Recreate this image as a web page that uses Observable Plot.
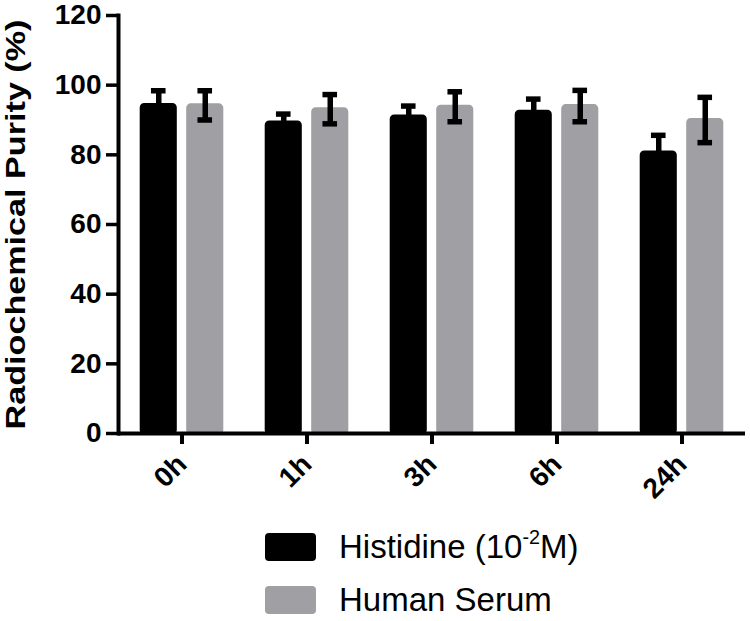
<!DOCTYPE html>
<html>
<head>
<meta charset="utf-8">
<script src="https://cdn.jsdelivr.net/npm/d3@7"></script>
<script src="https://cdn.jsdelivr.net/npm/@observablehq/plot@0.6"></script>
<style>
  html, body { margin: 0; padding: 0; background: #fff; }
  #wrap { position: relative; width: 750px; height: 621px; overflow: hidden; font-family: "Liberation Sans", Arial, sans-serif; }
  .sw { position: absolute; left: 265px; width: 51px; height: 28px; border-radius: 4px; }
  .lt { position: absolute; left: 339px; font-size: 33px; line-height: 30px; color: #000; white-space: nowrap; }
  .lt sup { font-size: 60%; vertical-align: 0; position: relative; top: -0.7em; line-height: 0; }
</style>
</head>
<body>
<div id="wrap"></div>
<script>
const times = ["0h", "1h", "3h", "6h", "24h"];
const histMean = [94.3, 89.3, 91.0, 92.4, 80.7];
const histErr = [4.1, 2.4, 3.0, 3.6, 4.9];
const serumMean = [94.2, 93.1, 93.8, 94.0, 90.0];
const serumErr = [4.2, 4.2, 4.3, 4.5, 6.5];
const yTicks = [0, 20, 40, 60, 80, 100, 120];
const seriesNames = ["Histidine", "Human Serum"];
const colors = ["#000000", "#a0a0a4"];
const yLabel = "Radiochemical Purity (%)";

const W = 750, H = 510, mL = 118, mR = 5, mT = 15, mB = 77;
const step = (W - mL - mR) / times.length;
const bw = 37.5, gap = 9, cap = 15;
const off = gap / 2 + bw / 2;

const hist = times.map((t, i) => ({time: t, mean: histMean[i], err: histErr[i]}));
const serum = times.map((t, i) => ({time: t, mean: serumMean[i], err: serumErr[i]}));

function barIns(c) { return {insetLeft: step / 2 + c - bw / 2 + 1.5, insetRight: step / 2 - c - bw / 2 + 1.5}; }
function capIns(c) { return {insetLeft: step / 2 + c - cap / 2, insetRight: step / 2 - c - cap / 2}; }

const chart = Plot.plot({
  width: W, height: H,
  marginLeft: mL, marginRight: mR, marginTop: mT, marginBottom: mB,
  style: {fontFamily: "'Liberation Sans', Arial, sans-serif", fontWeight: "bold", fontSize: "28px", color: "#000", background: "#fff", overflow: "visible"},
  x: {type: "band", domain: times, padding: 0, label: null},
  y: {domain: [0, 120], label: null},
  marks: [
    Plot.barY(hist, {x: "time", y: "mean", fill: colors[0], stroke: colors[0], strokeWidth: 3, rx: 3, ...barIns(-off)}),
    Plot.barY(serum, {x: "time", y: "mean", fill: colors[1], stroke: colors[1], strokeWidth: 3, rx: 3, ...barIns(off)}),
    Plot.ruleX(hist, {x: "time", y1: "mean", y2: d => d.mean + d.err, dx: -off, stroke: "#000", strokeWidth: 5.5}),
    Plot.tickY(hist, {x: "time", y: d => d.mean + d.err, stroke: "#000", strokeWidth: 5.5, ...capIns(-off)}),
    Plot.ruleX(serum, {x: "time", y1: d => d.mean - d.err, y2: d => d.mean + d.err, dx: off, stroke: "#000", strokeWidth: 5.5}),
    Plot.tickY(serum, {x: "time", y: d => d.mean + d.err, stroke: "#000", strokeWidth: 5.5, ...capIns(off)}),
    Plot.tickY(serum, {x: "time", y: d => d.mean - d.err, stroke: "#000", strokeWidth: 5.5, ...capIns(off)}),
    Plot.ruleY([0], {stroke: "#000", strokeWidth: 4}),
    Plot.frame({anchor: "left", stroke: "#000", strokeWidth: 4}),
    Plot.axisY({ticks: yTicks, tickSize: 12, tickPadding: 5, strokeWidth: 3.5, label: yLabel, labelAnchor: "center", labelOffset: 113}),
    Plot.axisX({tickSize: 11, tickPadding: 15, strokeWidth: 4, tickRotate: -45, label: null})
  ]
});

const wrap = document.getElementById("wrap");
wrap.appendChild(chart);
const svg = d3.select(chart);
svg.selectAll('[aria-label="y-axis label"] text')
  .text(yLabel)
  .attr("textLength", 410)
  .attr("lengthAdjust", "spacingAndGlyphs");

const legendTops = [533, 586];
seriesNames.forEach((name, i) => {
  const sw = document.createElement("div");
  sw.className = "sw";
  sw.style.top = legendTops[i] + "px";
  sw.style.background = colors[i];
  wrap.appendChild(sw);
  const lt = document.createElement("div");
  lt.className = "lt";
  lt.style.top = (legendTops[i] - 1) + "px";
  lt.innerHTML = i === 0 ? name + " (10<sup>-2</sup>M)" : name;
  wrap.appendChild(lt);
});
chart.style.position = "absolute";
chart.style.left = "0px";
chart.style.top = "0px";
</script>
</body>
</html>
